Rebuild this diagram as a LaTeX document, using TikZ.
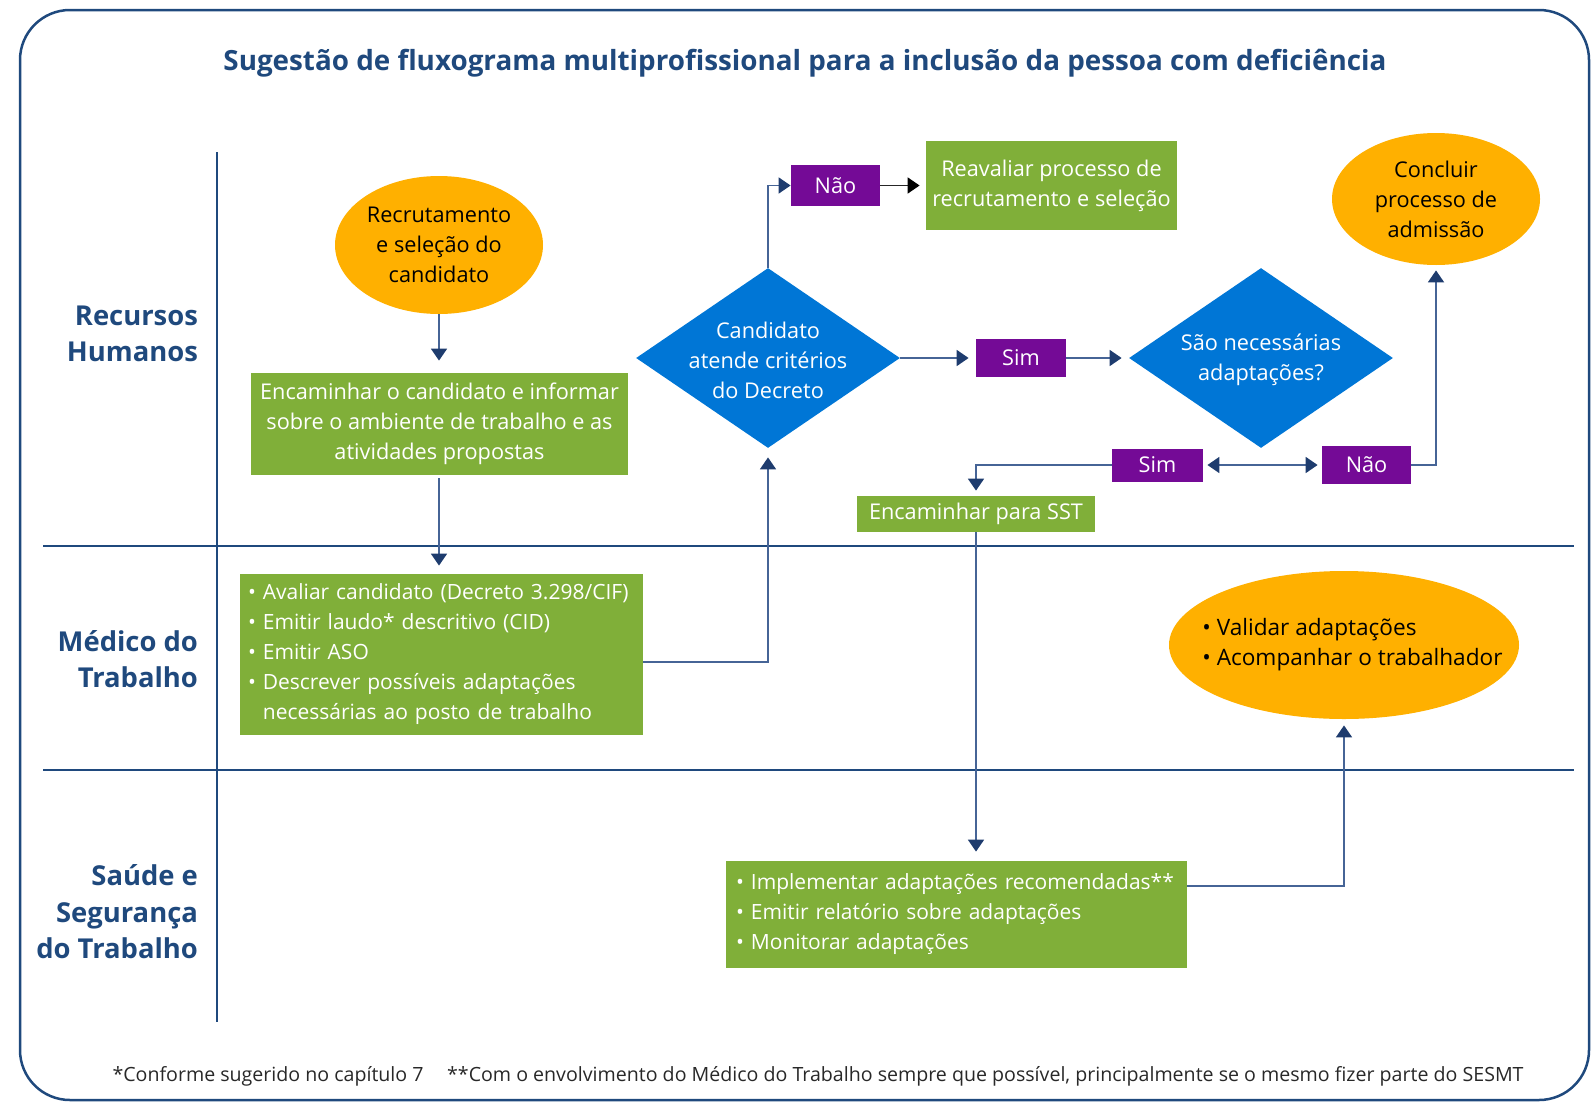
\documentclass[tikz,border=0pt]{standalone}
\usepackage{fontspec}
\setmainfont{Open Sans}
\usetikzlibrary{shapes.geometric,arrows.meta,calc}
\definecolor{navy}{RGB}{31,73,125}
\definecolor{lineblue}{RGB}{70,100,150}
\definecolor{tipblue}{RGB}{30,60,110}
\definecolor{grn}{RGB}{128,175,57}
\definecolor{org}{RGB}{255,176,0}
\definecolor{dblue}{RGB}{0,118,214}
\definecolor{purp}{RGB}{116,10,150}
\definecolor{foot}{RGB}{40,40,40}
\begin{document}
\begin{tikzpicture}[x=0.5pt,y=-0.5pt,
  body/.style={font=\fontsize{10.85}{15}\selectfont},
  listfont/.style={font=\fontsize{10.5}{15}\selectfont},
  greenbox/.style={body,rectangle,fill=grn,text=white,inner sep=0pt,align=center},
  listbox/.style={listfont,rectangle,fill=grn,text=white,inner ysep=0pt,align=left},
  oval/.style={body,ellipse,fill=org,text=black,inner sep=0pt,align=center},
  decision/.style={diamond,fill=dblue,inner sep=0pt,minimum width=132pt,minimum height=90pt},
  dtext/.style={body,text=white,align=center,inner sep=0pt},
  answer/.style={body,rectangle,fill=purp,text=white,inner sep=0pt,minimum width=44.5pt},
  lane/.style={font=\fontsize{13.7}{18.3}\selectfont\bfseries,text=navy,align=right,anchor=east},
  arr/.style={draw=lineblue,line width=0.9pt,-{Triangle[width=8pt,length=6pt,color=tipblue]}},
  darr/.style={draw=lineblue,line width=0.9pt,{Triangle[width=8pt,length=6pt,color=tipblue]}-{Triangle[width=8pt,length=6pt,color=tipblue]}},
  blk/.style={draw=black!85,line width=0.9pt,-{Triangle[width=8pt,length=6pt,color=black]}},
  sep/.style={draw=navy,line width=1pt}
]
\useasboundingbox (0,0) rectangle (1594,1103);
\draw[navy,line width=1.25pt,rounded corners=25pt] (20,10) rectangle (1589,1100);

\node[font=\fontsize{13.9}{16}\selectfont\bfseries,text=navy] (title) at (805,63) {Sugestão de fluxograma multiprofissional para a inclusão da pessoa com deficiência};

% swimlane separators
\draw[sep] (217,152) -- (217,1022);
\draw[sep] (43,546) -- (1574,546);
\draw[sep] (43,770) -- (1574,770);

\node[lane] (l1) at (205,334) {Recursos\\Humanos};
\node[lane] (l2) at (205,659) {Médico do\\Trabalho};
\node[lane] (l3) at (205,912) {Saúde e\\Segurança\\do Trabalho};

% nodes
\node[oval,minimum width=104pt,minimum height=69pt] (rec) at (439,245) {Recrutamento\\e seleção do\\candidato};
\node[greenbox,minimum width=188.5pt,minimum height=51pt] (box1) at (439.5,424) {Encaminhar o candidato e informar\\sobre o ambiente de trabalho e as\\atividades propostas};
\node[listbox,inner xsep=4pt,text width=193.5pt,minimum height=80.5pt] (box2) at (441.5,654.5) {• Avaliar candidato (Decreto 3.298/CIF)\\• Emitir laudo* descritivo (CID)\\• Emitir ASO\\• Descrever possíveis adaptações\\\phantom{• }necessárias ao posto de trabalho};
\node[decision] (d1) at (768,358) {};
\node[dtext] (d1t) at (768,360) {Candidato\\atende critérios\\do Decreto};
\node[answer,minimum height=20.5pt] (nao1) at (835.5,185.5) {Não};
\node[greenbox,minimum width=125.5pt,minimum height=44.5pt] (reav) at (1051.5,185.5) {Reavaliar processo de\\recrutamento e seleção};
\node[oval,minimum width=104pt,minimum height=66pt] (concl) at (1436,199) {Concluir\\processo de\\admissão};
\node[answer,minimum height=19pt,minimum width=45pt] (sim1) at (1021,358) {Sim};
\node[decision] (d2) at (1261,358) {};
\node[dtext] (d2t) at (1261,360) {São necessárias\\adaptações?};
\node[answer,minimum height=16.5pt,minimum width=45.5pt] (sim2) at (1157.5,465) {Sim};
\node[answer,minimum height=19pt] (nao2) at (1366.5,465) {Não};
\node[greenbox,minimum width=119pt,minimum height=18pt] (sst) at (976,514) {Encaminhar para SST};
\node[listbox,inner xsep=5pt,text width=220.5pt,minimum height=53.5pt] (box3) at (956.5,914.5) {• Implementar adaptações recomendadas**\\• Emitir relatório sobre adaptações\\• Monitorar adaptações};
\node[ellipse,fill=org,inner sep=0pt,minimum width=175pt,minimum height=74pt] (valid) at (1344,645) {};
\node[font=\fontsize{11.3}{15}\selectfont,text=black,align=left,inner sep=0pt,anchor=west] (validt) at (1202,645) {• Validar adaptações\\• Acompanhar o trabalhador};

\node[font=\fontsize{9.8}{12}\selectfont,text=foot] (fn) at (818,1076) {*Conforme sugerido no capítulo 7\hspace{1.2em}**Com o envolvimento do Médico do Trabalho sempre que possível, principalmente se o mesmo fizer parte do SESMT};

% helper coordinates
\coordinate (y662) at (0,662);
\coordinate (y886) at (0,886);
\coordinate (b2out) at (box2.east |- y662);
\coordinate (b3out) at (box3.east |- y886);

% connectors
\draw[arr,shorten >=6pt] (rec.south) -- (rec.south |- box1.north);
\draw[arr,shorten <=1.5pt,shorten >=4pt] (rec.south |- box1.south) -- (rec.south |- box2.north);
\draw[arr,shorten >=4.5pt] (b2out) -| (d1.south);
\draw[arr] (d1.north) |- (nao1.west);
\draw[blk,shorten >=3pt] (nao1.east) -- (reav.west);
\draw[arr,shorten >=3.5pt] (d1.east) -- (sim1.west);
\draw[arr,shorten >=3.5pt] (sim1.east) -- (d2.west);
\draw[darr,shorten <=2pt,shorten >=2pt] (sim2.east) -- (nao2.west);
\draw[arr,shorten >=2.5pt] (nao2.east) -| (concl.south);
\draw[arr,shorten >=2.5pt] (sim2.west) -| (sst.north);
\draw[arr,shorten >=4.5pt] (sst.south) -- (sst.south |- box3.north);
\draw[arr,shorten >=3pt] (b3out) -| (valid.south);
\end{tikzpicture}
\end{document}
